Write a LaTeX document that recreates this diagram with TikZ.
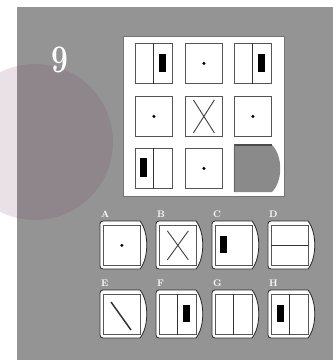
\documentclass[tikz,border=0pt]{standalone}
\usepackage{tikz}
\usepackage{graphicx}
\usetikzlibrary{positioning,calc}
\definecolor{puzzlegray}{RGB}{148,148,148}
\definecolor{piecegray}{RGB}{138,138,138}
\definecolor{cellline}{RGB}{85,85,85}
\definecolor{tintred}{RGB}{110,60,90}
\tikzset{
    cell/.style={rectangle, draw=cellline, fill=white, line width=0.8pt, minimum width=37pt, minimum height=40pt, inner sep=0pt, anchor=north west},
    optinner/.style={rectangle, draw=cellline, fill=white, line width=0.7pt, minimum width=37pt, minimum height=40pt, inner sep=0pt, anchor=north west},
    optframe/.style={draw=black!85, fill=white, line width=0.8pt},
    panel/.style={rectangle, draw=black!55, fill=white, line width=0.8pt, minimum width=161pt, minimum height=160pt, inner sep=0pt, anchor=north west},
    divider/.style={draw=black!80, line width=0.8pt},
    cross/.style={draw=black!75, line width=0.9pt},
    slash/.style={draw=black!80, line width=1.5pt},
    bar/.style={fill=black},
    optlabel/.style={font=\fontsize{9.5}{9.5}\selectfont\bfseries, text=white, anchor=base west, inner sep=0pt},
}

\begin{document}
\begin{tikzpicture}[x=1pt, y=-1pt]
    \useasboundingbox (0,0) rectangle (333,360);
    % background
    \fill[white] (0,0) rectangle (333,360);
    \fill[puzzlegray] (17,7) rectangle (333,360);
    \fill[tintred, opacity=0.15] (35,142) circle (78pt);

    % number
    \node[text=white, font=\fontsize{30}{30}\selectfont\bfseries] (num) at (60,60) {\scalebox{1}[1.3]{9}};

    % matrix of figures
    \node[panel] (board) at (123,36) {};
    \node[cell] (c11) at (135,43) {};
    \node[cell] (c12) at (185,43) {};
    \node[cell] (c13) at (234,43) {};
    \node[cell] (c21) at (135,96) {};
    \node[cell] (c22) at (185,96) {};
    \node[cell] (c23) at (234,96) {};
    \node[cell] (c31) at (135,148) {};
    \node[cell] (c32) at (185,148) {};

    \draw[divider] ($(c11.north west)+(18,0)$) -- ($(c11.south west)+(18,0)$);
    \fill[bar] ($(c11.north west)+(24,11)$) rectangle ++(7,18);
    \fill (c12.center) circle (1.7pt);
    \draw[divider] ($(c13.north west)+(18,0)$) -- ($(c13.south west)+(18,0)$);
    \fill[bar] ($(c13.north west)+(24,11)$) rectangle ++(7,18);

    \fill (c21.center) circle (1.7pt);
    \draw[cross] ($(c22.center)+(-10.5,-16.5)$) -- ($(c22.center)+(10.5,16.5)$);
    \draw[cross] ($(c22.center)+(10.5,-16.5)$) -- ($(c22.center)+(-10.5,16.5)$);
    \fill (c23.center) circle (1.7pt);

    \draw[divider] ($(c31.north west)+(18,0)$) -- ($(c31.south west)+(18,0)$);
    \fill[bar] ($(c31.north west)+(5,10)$) rectangle ++(7,19);
    \fill (c32.center) circle (1.7pt);

    % missing piece
    \fill[piecegray] (234,145) -- (272,145) .. controls (283,156) and (283,181) .. (272,192) -- (234,192) -- cycle;
    \draw[black!70, line width=1.6pt] (234,145) -- (272,145);
    \draw[black!60, line width=0.6pt] (234,145) -- (234,192);

    % answer options
    \foreach \lbl/\px/\py in {A/100/221, B/156/221, C/212/221, D/268/221,
                              E/100/290, F/156/290, G/212/290, H/268/290}{
        \draw[optframe] (\px+40,\py) {[rounded corners=3pt] -- (\px,\py) -- (\px,\py+48)} -- (\px+40,\py+48)
            .. controls (\px+49,\py+37) and (\px+49,\py+11) .. (\px+40,\py) -- cycle;
        \node[optinner] (opt\lbl) at (\px+3,\py+4) {};
        \node[optlabel] (lbl\lbl) at (\px+1,\py-4) {\lbl};
    }

    \fill (optA.center) circle (1.7pt);
    \draw[cross] ($(optB.center)+(-10.5,-14.5)$) -- ($(optB.center)+(10.5,14.5)$);
    \draw[cross] ($(optB.center)+(10.5,-14.5)$) -- ($(optB.center)+(-10.5,14.5)$);
    \fill[bar] ($(optC.north west)+(5,11)$) rectangle ++(7,17);
    \draw[divider] (optD.west) -- (optD.east);

    \draw[slash] ($(optE.north west)+(8,8)$) -- ($(optE.north west)+(28,36)$);
    \draw[divider] (optF.north) -- (optF.south);
    \fill[bar] ($(optF.north west)+(24,11)$) rectangle ++(7,17);
    \draw[divider] (optG.north) -- (optG.south);
    \draw[divider] (optH.north) -- (optH.south);
    \fill[bar] ($(optH.north west)+(6,11)$) rectangle ++(7,17);
\end{tikzpicture}
\end{document}
